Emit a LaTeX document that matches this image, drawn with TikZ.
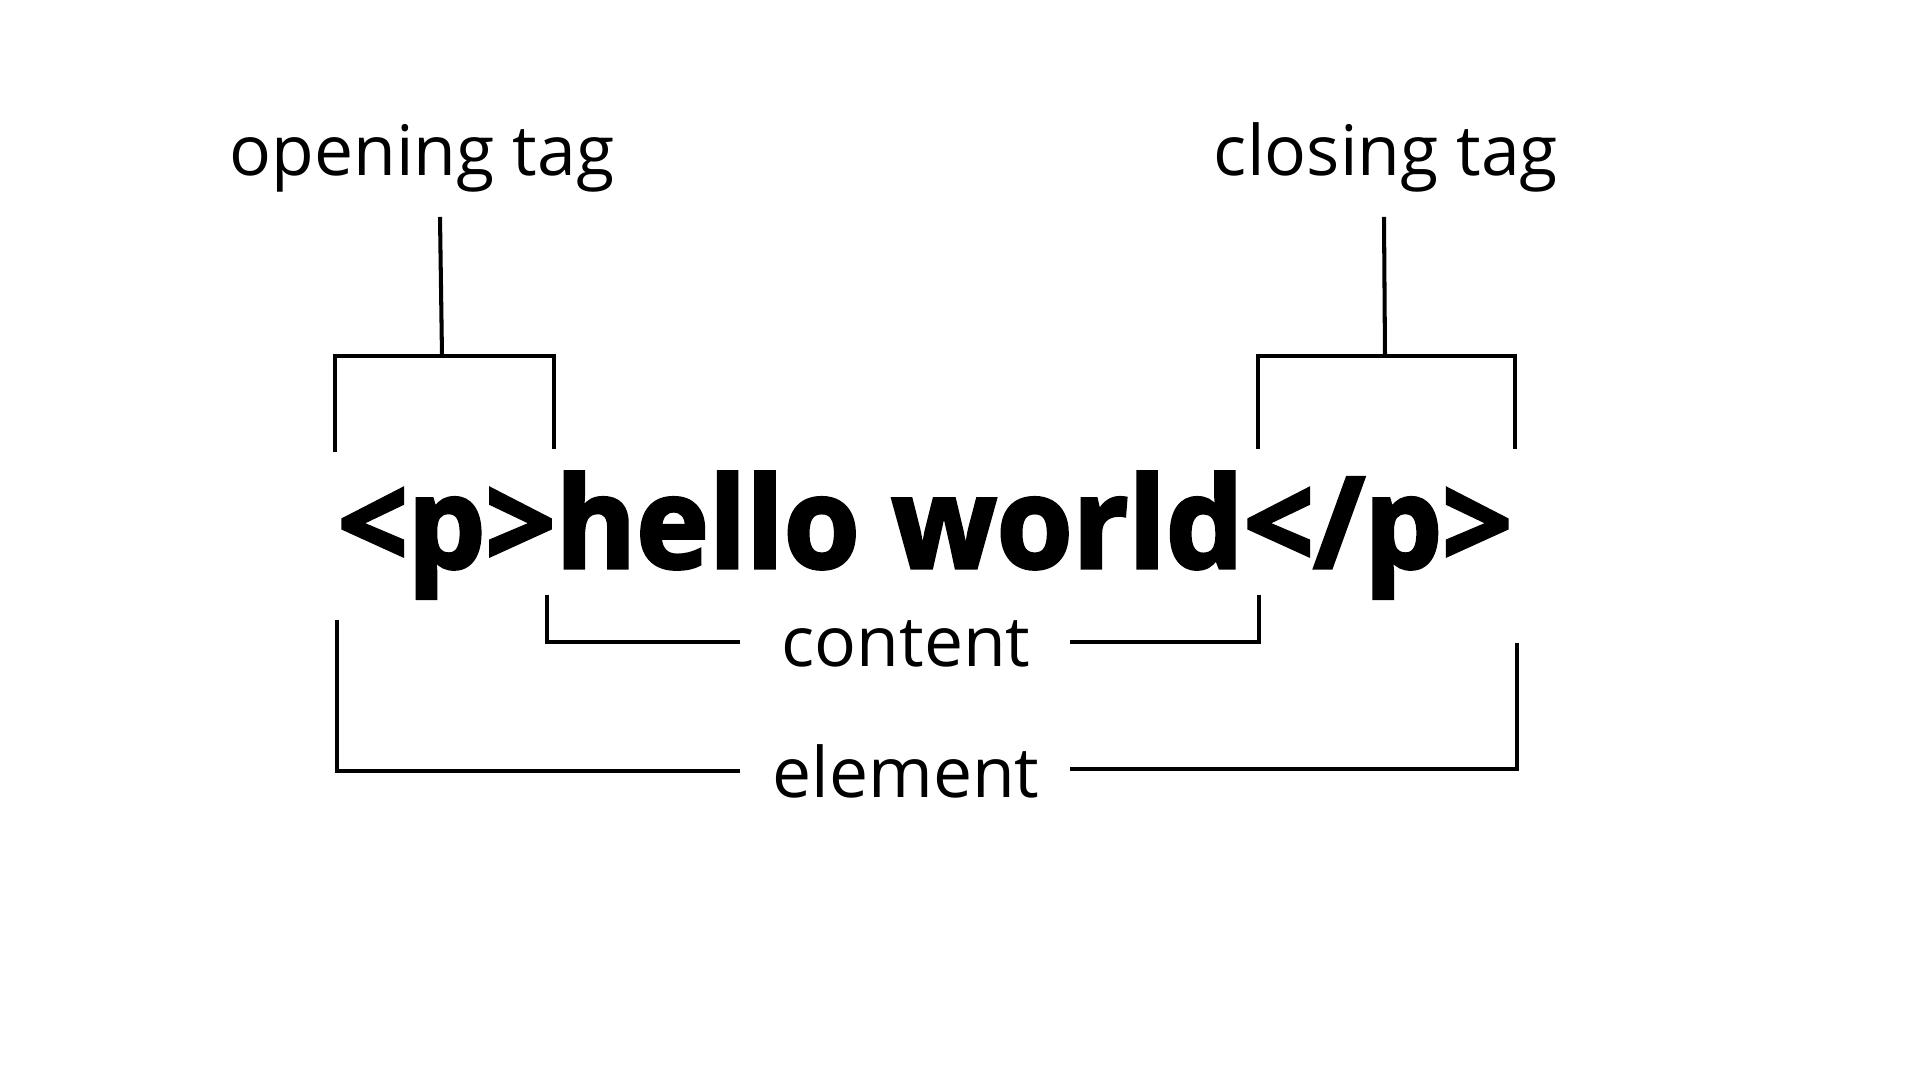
\documentclass[tikz,border=0pt]{standalone}
\usepackage{fontspec}
\setmainfont{Open Sans}
\newfontfamily\codefont{Open Sans}[BoldFeatures={FakeBold=2.6, FakeStretch=0.97}]
\tikzset{%
  tagtext/.style={          % small labels
    inner sep=0pt, anchor=base,
    font=\fontsize{19.8}{24}\selectfont},
  codetext/.style={         % the big html line
    inner sep=0pt, anchor=base,
    font=\fontsize{36}{43}\selectfont\codefont\bfseries},
  bracketline/.style={
    draw, line width=1.15pt, line cap=butt}
}

\begin{document}
\begin{tikzpicture}[x=0.01cm, y=-0.01cm]
  \useasboundingbox (0,0) rectangle (1920,1080);

  \node[tagtext]  (open)    at (422,176)  {opening tag};
  \node[tagtext]  (close)   at (1386,176) {closing tag};
  \node[codetext] (code)    at (925,568)  {<p>hello world</p>};
  \node[tagtext]  (content) at (906,667)  {content};
  \node[tagtext]  (element) at (906,798)  {element};

  % opening tag bracket
  \coordinate (otop) at (440,217);
  \coordinate (omid) at (442,356);
  \coordinate (oa)   at (335,452);
  \coordinate (ob)   at (554,449);
  % closing tag bracket
  \coordinate (ctop) at (1384,217);
  \coordinate (cmid) at (1385,356);
  \coordinate (ca)   at (1258,449);
  \coordinate (cb)   at (1515,449);
  % content bracket
  \coordinate (ta)   at (547,595);
  \coordinate (tb)   at (740,642);
  \coordinate (tc)   at (1070,642);
  \coordinate (td)   at (1259,595);
  % element bracket
  \coordinate (ea)   at (337,620);
  \coordinate (eb)   at (740,771);
  \coordinate (ec)   at (1070,769);
  \coordinate (ed)   at (1517,643);

  \draw[bracketline] (otop) -- (omid);
  \draw[bracketline] (oa) |- (omid) -| (ob);

  \draw[bracketline] (ctop) -- (cmid);
  \draw[bracketline] (ca) |- (cmid) -| (cb);

  \draw[bracketline] (ta) |- (tb);
  \draw[bracketline] (tc) -| (td);

  \draw[bracketline] (ea) |- (eb);
  \draw[bracketline] (ec) -| (ed);

\end{tikzpicture}
\end{document}
